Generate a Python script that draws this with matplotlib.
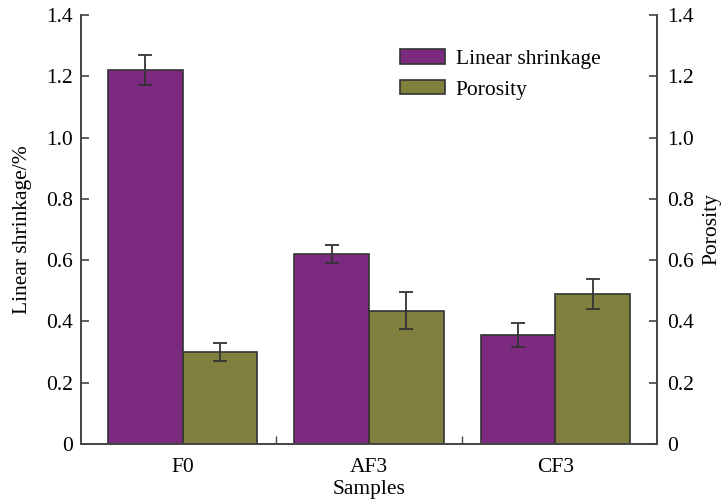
import numpy as np
import matplotlib
matplotlib.use('Agg')
import matplotlib.pyplot as plt
from matplotlib.ticker import FuncFormatter, FixedLocator

plt.rcParams['font.family'] = ['Liberation Serif', 'DejaVu Serif']
plt.rcParams['font.size'] = 15.5

# data
samples = ['F0', 'AF3', 'CF3']
shrinkage = [1.22, 0.62, 0.355]
shrinkage_err = [0.05, 0.03, 0.04]
porosity = [0.30, 0.435, 0.49]
porosity_err = [0.03, 0.06, 0.05]
yticks = [0, 0.2, 0.4, 0.6, 0.8, 1.0, 1.2, 1.4]

purple = '#7b2a7f'
olive = '#7f7f3e'
edge = '#333333'

fig = plt.figure(figsize=(7.27, 5), dpi=100)
ax = fig.add_axes([0.1114, 0.112, 0.7923, 0.858])
ax2 = ax.twinx()

x = np.arange(len(samples))
w = 0.4
ekw = dict(ecolor=edge, elinewidth=1.3, capsize=5, capthick=1.3)
ax.bar(x - w/2, shrinkage, w, yerr=shrinkage_err, color=purple,
       edgecolor=edge, linewidth=1.2, label='Linear shrinkage', error_kw=ekw)
ax.bar(x + w/2, porosity, w, yerr=porosity_err, color=olive,
       edgecolor=edge, linewidth=1.2, label='Porosity', error_kw=ekw)

ax.set_xlim(-0.545, 2.545)
for a in (ax, ax2):
    a.set_ylim(0, 1.4)
    a.set_yticks(yticks)
    a.yaxis.set_major_formatter(FuncFormatter(lambda v, p: '0' if v == 0 else '%.1f' % v))
    a.spines['top'].set_visible(False)
    for s in a.spines.values():
        s.set_color('#444444')
        s.set_linewidth(1.2)
ax.tick_params(axis='y', direction='in', length=6, width=1.2, color='#444444', pad=6)
ax2.tick_params(axis='y', direction='in', length=6, width=1.2, color='#444444', pad=7)

ax.set_xticks(x)
ax.set_xticklabels(samples)
ax.tick_params(axis='x', which='major', length=0, pad=10)
ax.xaxis.set_minor_locator(FixedLocator([0.5, 1.5]))
ax.tick_params(axis='x', which='minor', direction='in', length=6, width=1.0, color='#444444')

ax.set_xlabel('Samples', labelpad=2)
ax.set_ylabel('Linear shrinkage/%', labelpad=10)
ax2.set_ylabel('Porosity', labelpad=6)

ax.legend(loc='upper left', bbox_to_anchor=(0.52, 0.965), frameon=False,
          handlelength=2.1, handleheight=0.65, handletextpad=0.5, labelspacing=0.5)

fig.savefig('out.png', dpi=100)
